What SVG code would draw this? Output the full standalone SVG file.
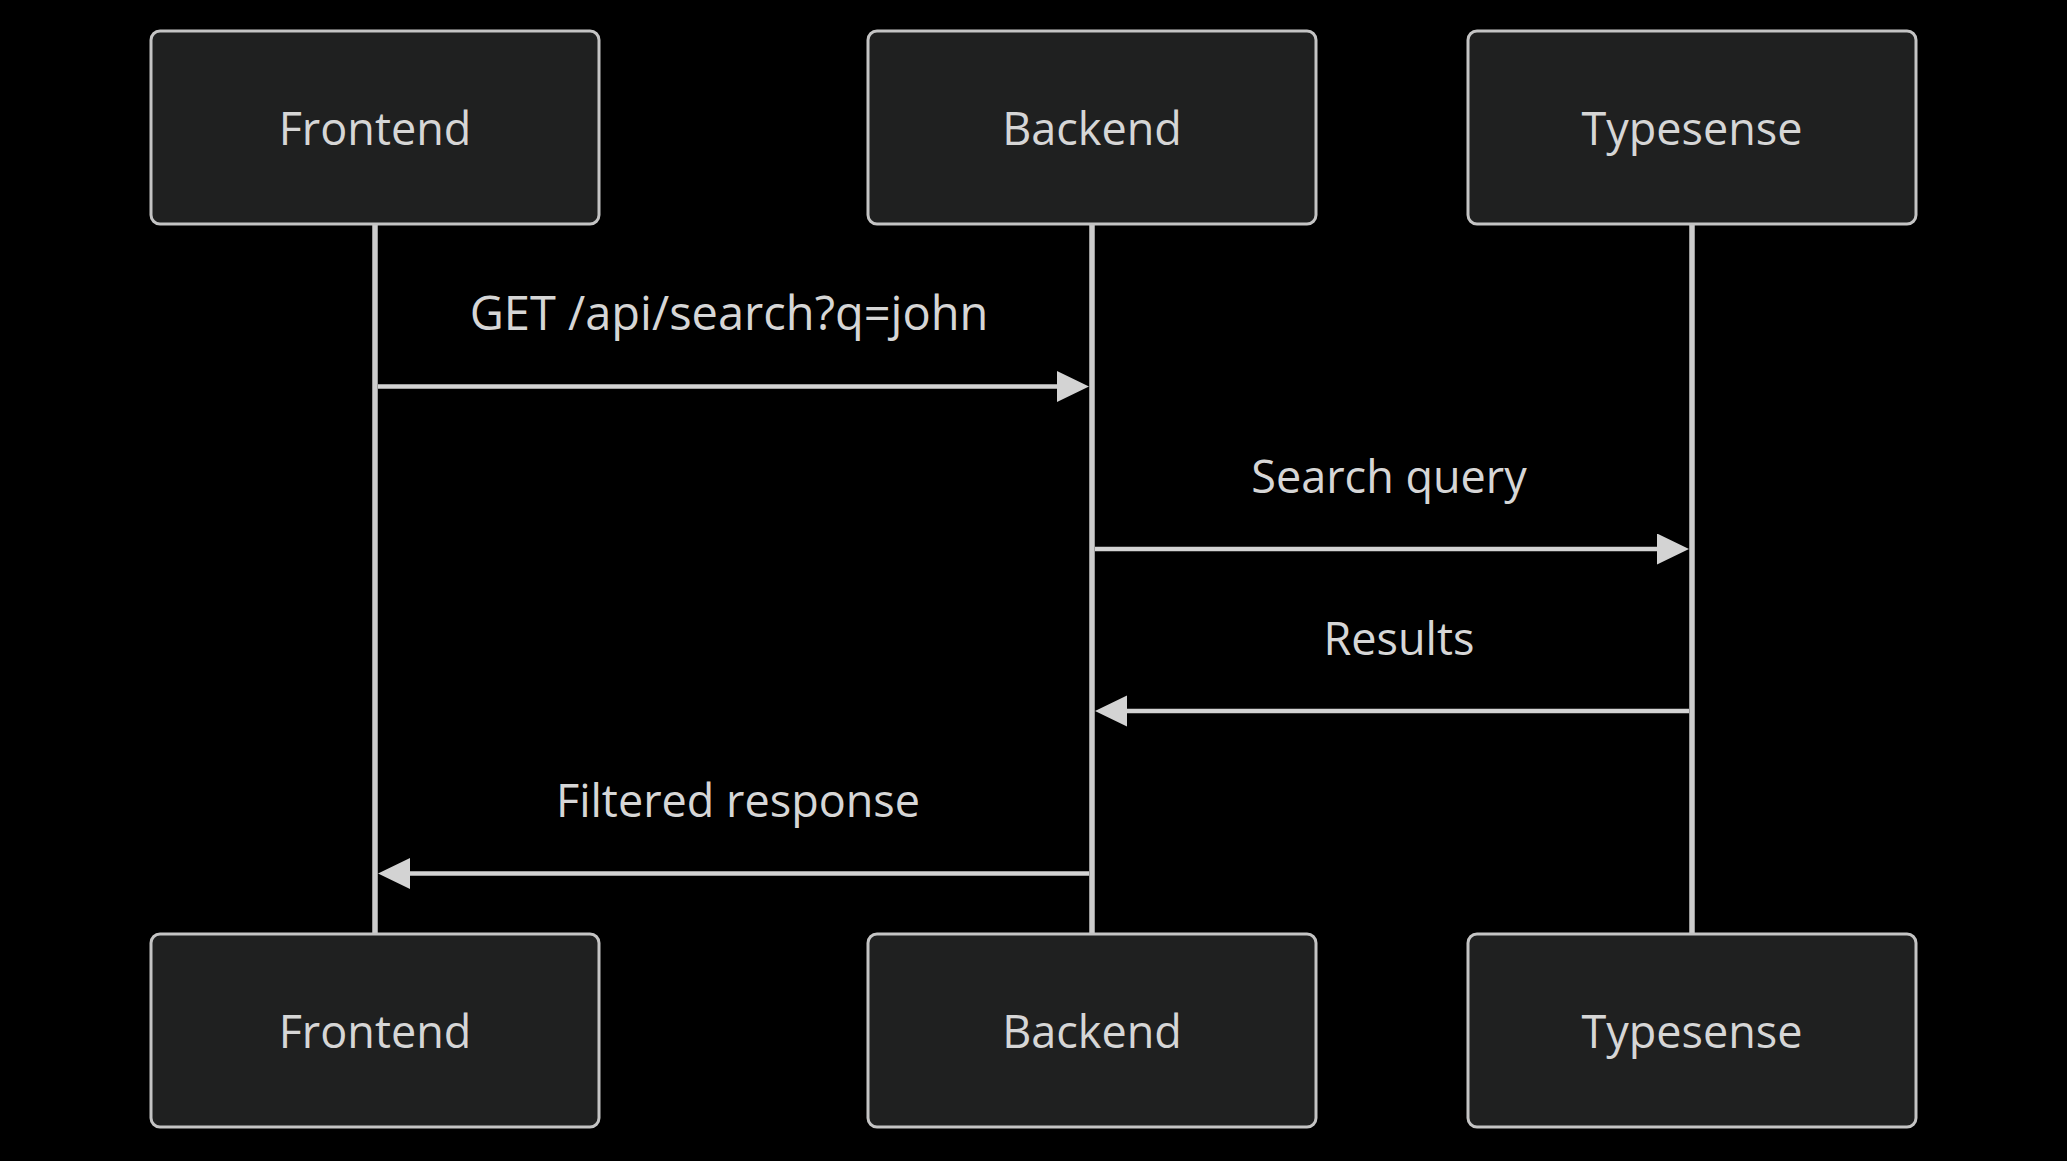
<svg xmlns="http://www.w3.org/2000/svg" width="2067" height="1161" viewBox="0 0 2067 1161">
  <defs>
    <style>
      .actor { fill: #1f2020; stroke: #c4c4c4; stroke-width: 3; }
      .actor-text { fill: #d6d6d6; font-family: "Open Sans", "Noto Sans", sans-serif; font-size: 45px; text-anchor: middle; }
      .lifeline { stroke: #cccccc; stroke-width: 5.5; fill: none; }
      .msg { stroke: #d3d3d3; stroke-width: 4.5; fill: none; marker-end: url(#arrow); }
      .msg-text { fill: #d6d6d6; font-family: "Open Sans", "Noto Sans", sans-serif; font-size: 45px; text-anchor: middle; }
      .msg-text-wide { font-size: 47px; }
    </style>
    <marker id="arrow" markerUnits="userSpaceOnUse" markerWidth="33" markerHeight="32" refX="1" refY="15.5" orient="auto">
      <path d="M0,0 L32,15.5 L0,31 z" fill="#d3d3d3"/>
    </marker>
  </defs>
  <rect x="0" y="0" width="2067" height="1161" fill="#000000"/>

  <g id="lifelines">
    <line class="lifeline" x1="375" y1="225" x2="375" y2="933"/>
    <line class="lifeline" x1="1092" y1="225" x2="1092" y2="933"/>
    <line class="lifeline" x1="1692" y1="225" x2="1692" y2="933"/>
  </g>

  <g id="actor-frontend-top">
    <rect class="actor" x="151" y="31" width="448" height="193" rx="9" ry="9"/>
    <text class="actor-text" x="375" y="145">Frontend</text>
  </g>
  <g id="actor-backend-top">
    <rect class="actor" x="868" y="31" width="448" height="193" rx="9" ry="9"/>
    <text class="actor-text" x="1092" y="145">Backend</text>
  </g>
  <g id="actor-typesense-top">
    <rect class="actor" x="1468" y="31" width="448" height="193" rx="9" ry="9"/>
    <text class="actor-text" x="1692" y="145">Typesense</text>
  </g>

  <g id="actor-frontend-bottom">
    <rect class="actor" x="151" y="934" width="448" height="193" rx="9" ry="9"/>
    <text class="actor-text" x="375" y="1048">Frontend</text>
  </g>
  <g id="actor-backend-bottom">
    <rect class="actor" x="868" y="934" width="448" height="193" rx="9" ry="9"/>
    <text class="actor-text" x="1092" y="1048">Backend</text>
  </g>
  <g id="actor-typesense-bottom">
    <rect class="actor" x="1468" y="934" width="448" height="193" rx="9" ry="9"/>
    <text class="actor-text" x="1692" y="1048">Typesense</text>
  </g>

  <g id="connectors">
    <line class="msg" x1="378" y1="386.5" x2="1058" y2="386.5"/>
    <text class="msg-text msg-text-wide" x="729" y="330">GET /api/search?q=john</text>

    <line class="msg" x1="1095" y1="549" x2="1658" y2="549"/>
    <text class="msg-text" x="1389" y="492.5">Search query</text>

    <line class="msg" x1="1689" y1="711" x2="1126" y2="711"/>
    <text class="msg-text" x="1399" y="654.5">Results</text>

    <line class="msg" x1="1089" y1="873.5" x2="409" y2="873.5"/>
    <text class="msg-text" x="738" y="817">Filtered response</text>
  </g>
</svg>
